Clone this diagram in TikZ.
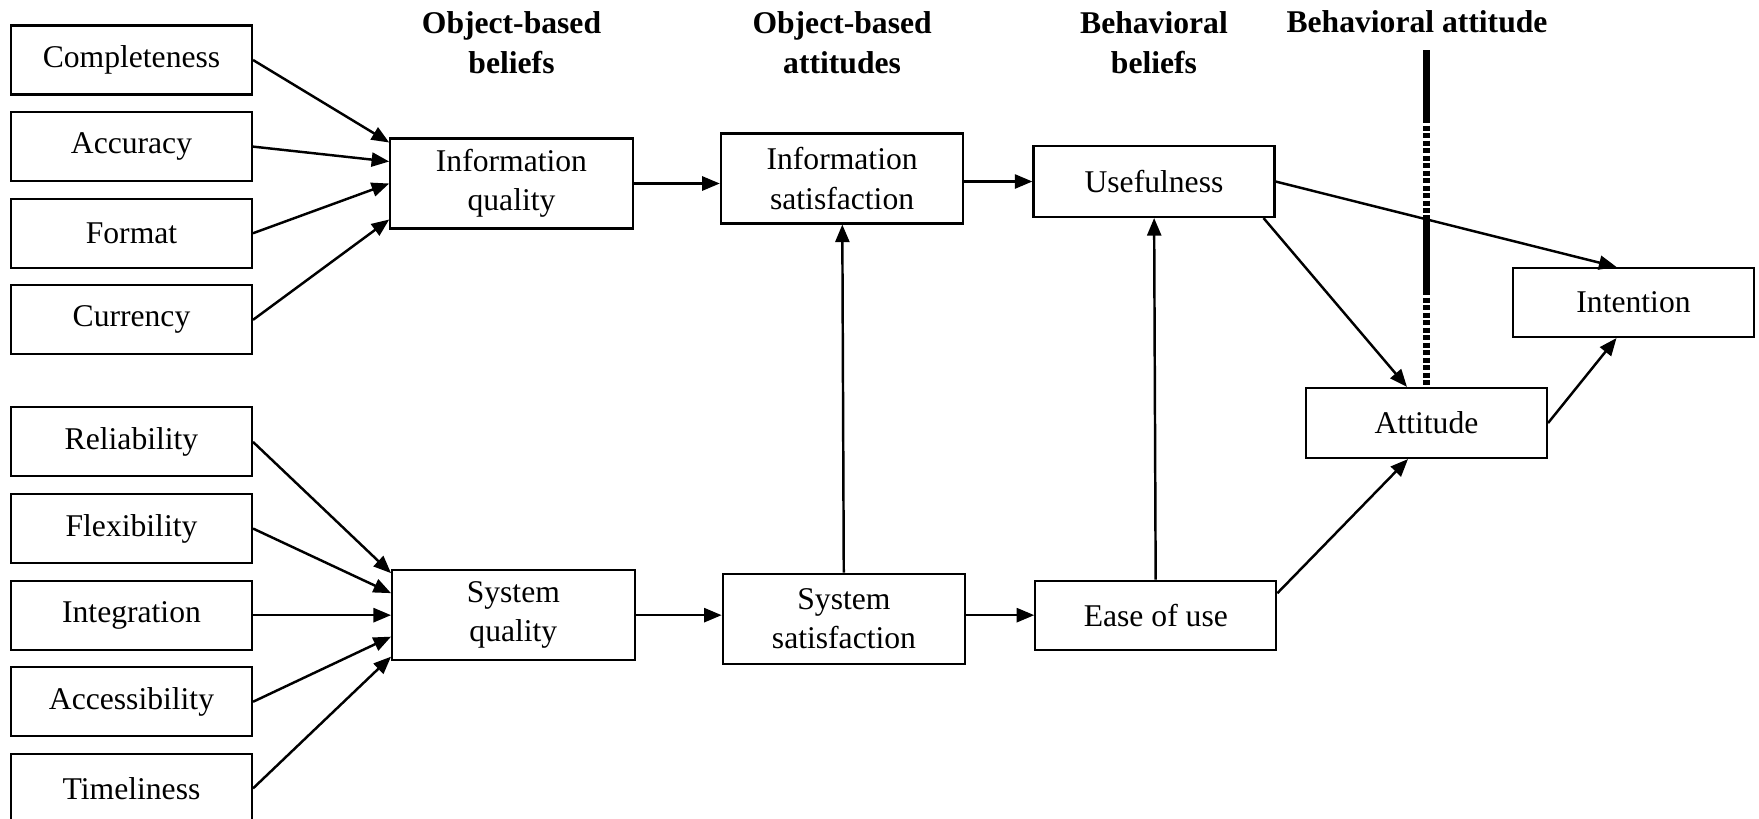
\documentclass[tikz,border=0pt]{standalone}
\usepackage{fontspec}
\setmainfont{Liberation Serif}
\usetikzlibrary{positioning, arrows.meta}

\begin{document}
\begin{tikzpicture}[
        node distance=0.31cm and 2.76cm,
        box/.style={draw, rectangle, minimum width=4.82cm, minimum height=1.38cm, align=center, line width=1.2pt, inner sep=2pt, font=\fontsize{18}{22.5}\selectfont},
        tallbox/.style={box, minimum width=4.85cm, minimum height=1.8cm},
        arrow/.style={-{Triangle[length=10pt, width=8pt]}, line width=1.4pt},
        title/.style={font=\fontsize{18}{22.5}\selectfont\bfseries, align=center},
        wall/.style={line width=4pt},
        walldash/.style={line width=4pt, dash pattern=on 0.1cm off 0.05cm}
    ]
    \useasboundingbox (0,0) rectangle (35.18,-16.36);

    % --- LEFT: information attributes ---
    \node[box] (compl) at (2.63,-1.20) {Completeness};
    \node[box, below=of compl] (accur) {Accuracy};
    \node[box, below=of accur] (format) {Format};
    \node[box, below=of format] (curr) {Currency};

    % --- LEFT: system attributes ---
    \node[box, below=1.02cm of curr] (relia) {Reliability};
    \node[box, below=of relia] (flex) {Flexibility};
    \node[box, below=of flex] (integ) {Integration};
    \node[box, below=of integ] (access) {Accessibility};
    \node[box, below=of access] (timel) {Timeliness};

    % --- MIDDLE: beliefs and attitudes ---
    \node[tallbox] (iq) at (10.23,-3.67) {Information\\quality};
    \node[tallbox, right=of integ] (sq) {System\\quality};
    \node[tallbox, right=1.72cm of iq, yshift=0.1cm] (isat) {Information\\satisfaction};
    \node[tallbox, right=1.72cm of sq, yshift=-0.07cm] (ssat) {System\\satisfaction};
    \node[box, right=1.36cm of isat, yshift=-0.06cm, minimum height=1.42cm] (useful) {Usefulness};
    \node[box, right=1.36cm of ssat, yshift=0.07cm] (ease) {Ease of use};

    % --- RIGHT: attitude and intention ---
    \node[box, minimum height=1.4cm] (attit) at (28.53,-8.46) {Attitude};
    \node[box] (intent) at (32.67,-6.05) {Intention};

    % --- titles ---
    \coordinate (titlerow) at (0,-0.85);
    \coordinate (titletop) at (0,-0.44);
    \node[title] (t_obel) at (iq |- titlerow) {Object-based\\beliefs};
    \node[title] (t_oatt) at (isat |- titlerow) {Object-based\\attitudes};
    \node[title] (t_bbel) at (useful |- titlerow) {Behavioral\\beliefs};
    \node[title, xshift=-0.19cm] (t_batt) at (attit |- titletop) {Behavioral attitude};

    % --- divider ---
    \coordinate (w1) at (attit.north |- 0,-1.0);
    \coordinate (w2) at (attit.north |- 0,-2.36);
    \coordinate (w3) at (attit.north |- 0,-4.30);
    \coordinate (w4) at (attit.north |- 0,-5.80);
    \draw[wall] (w1) -- (w2);
    \draw[walldash] (w2) -- (w3);
    \draw[wall] (w3) -- (w4);
    \draw[walldash] (w4) -- (attit.north);

    % --- arrows into the quality boxes ---
    \draw[arrow] (compl.east) -- ([yshift=0.82cm]iq.west);
    \draw[arrow] (accur.east) -- ([yshift=0.44cm]iq.west);
    \draw[arrow] (format.east) -- (iq.west);
    \draw[arrow] (curr.east) -- ([yshift=-0.72cm]iq.west);
    \draw[arrow] (relia.east) -- ([yshift=0.84cm]sq.west);
    \draw[arrow] (flex.east) -- ([yshift=0.44cm]sq.west);
    \draw[arrow] (integ.east) -- (sq.west);
    \draw[arrow] (access.east) -- ([yshift=-0.43cm]sq.west);
    \draw[arrow] (timel.east) -- ([yshift=-0.83cm]sq.west);

    % --- chain ---
    \draw[arrow] (iq.east) -- (iq.east -| isat.west);
    \draw[arrow] (sq.east) -- (sq.east -| ssat.west);
    \draw[arrow] (isat.east |- useful.west) -- (useful.west);
    \draw[arrow] (ssat.east |- ease.west) -- (ease.west);
    \draw[arrow] (ssat) -- (isat);
    \draw[arrow] (ease) -- (useful);
    \draw[arrow] (useful.east) -- ([xshift=-0.34cm]intent.north);
    \draw[arrow] ([xshift=-0.24cm]useful.south east) -- ([xshift=-0.39cm]attit.north);
    \draw[arrow] ([yshift=0.44cm]ease.east) -- ([xshift=-0.37cm]attit.south);
    \draw[arrow] (attit.east) -- ([xshift=-0.34cm]intent.south);
\end{tikzpicture}
\end{document}
